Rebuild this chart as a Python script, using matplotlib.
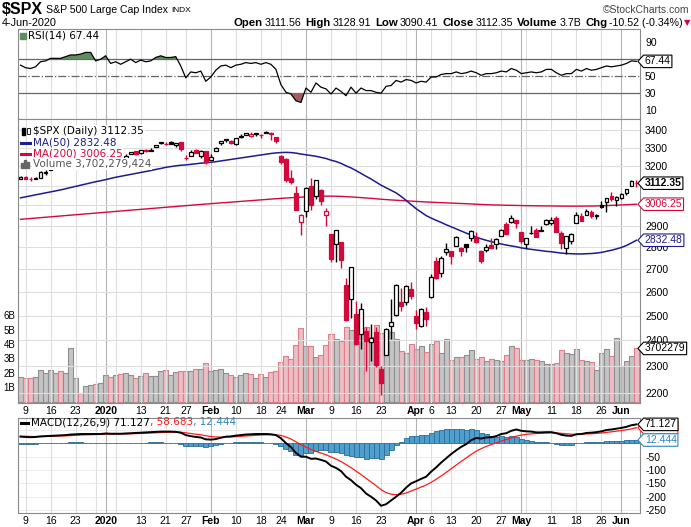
import numpy as np
import matplotlib
matplotlib.use("Agg")
import matplotlib.pyplot as plt
from matplotlib.patches import Rectangle
from matplotlib.path import Path
from matplotlib.lines import Line2D
from matplotlib.transforms import blended_transform_factory

plt.rcParams["font.family"] = ["Liberation Sans", "DejaVu Sans"]

# daily bars 6-Dec-2019 .. 4-Jun-2020 (index 0 .. 123)
opens = [3134.62, 3141.86, 3135.36, 3135.75, 3141.23, 3166.65, 3183.63, 3195.40, 3195.21, 3192.32,
         3223.33, 3226.05, 3225.45, 3227.20, 3247.23, 3240.09, 3215.18, 3244.67, 3226.36, 3217.55,
         3241.86, 3238.59, 3266.03, 3281.81, 3271.13, 3285.35, 3282.27, 3302.97, 3323.66, 3321.03,
         3330.02, 3315.77, 3333.10, 3247.16, 3255.35, 3289.46, 3256.45, 3282.33, 3235.66, 3280.61,
         3324.91, 3344.92, 3335.54, 3318.28, 3365.87, 3370.50, 3365.90, 3378.08, 3369.04, 3380.39,
         3380.45, 3360.50, 3257.61, 3238.94, 3139.90, 3062.54, 2916.90, 2974.28, 3096.46, 3045.75,
         3075.70, 2954.20, 2863.89, 2813.48, 2825.60, 2630.86, 2569.99, 2508.59, 2425.66, 2436.50,
         2393.48, 2431.94, 2290.71, 2344.44, 2457.77, 2501.29, 2555.87, 2558.98, 2614.69, 2498.08,
         2458.54, 2514.92, 2578.28, 2738.65, 2685.00, 2776.99, 2782.46, 2805.10, 2795.64, 2812.64,
         2842.43, 2845.62, 2784.81, 2787.89, 2810.42, 2812.64, 2854.65, 2909.96, 2918.46, 2930.91,
         2869.09, 2815.01, 2868.88, 2883.14, 2878.26, 2908.83, 2915.46, 2939.50, 2865.86, 2794.54,
         2829.95, 2913.86, 2948.59, 2953.63, 2969.95, 2948.05, 3004.08, 3015.65, 3046.61, 3025.17,
         3038.78, 3064.78, 3098.90, 3111.56]
highs = [3150.60, 3148.87, 3142.12, 3143.98, 3176.28, 3182.68, 3197.71, 3198.22, 3198.48, 3205.48,
         3225.65, 3227.78, 3226.43, 3240.08, 3247.93, 3240.92, 3231.72, 3258.14, 3246.15, 3246.84,
         3244.91, 3267.07, 3275.58, 3282.99, 3288.13, 3294.25, 3298.66, 3317.11, 3329.88, 3329.79,
         3337.77, 3326.88, 3333.18, 3258.85, 3285.78, 3293.47, 3285.91, 3282.33, 3268.44, 3306.92,
         3337.58, 3347.96, 3341.42, 3352.26, 3375.63, 3381.47, 3385.09, 3380.69, 3375.01, 3393.52,
         3389.15, 3360.76, 3259.81, 3246.99, 3182.51, 3097.07, 2959.72, 3090.96, 3136.72, 3130.97,
         3083.04, 2985.93, 2863.89, 2882.59, 2825.60, 2660.95, 2711.33, 2562.98, 2553.93, 2453.57,
         2466.97, 2453.01, 2300.73, 2449.71, 2571.42, 2637.01, 2615.91, 2631.80, 2641.39, 2522.75,
         2533.22, 2538.18, 2676.85, 2756.89, 2760.75, 2818.57, 2782.46, 2851.85, 2801.88, 2815.22,
         2879.22, 2868.98, 2785.54, 2815.10, 2844.90, 2842.71, 2887.72, 2921.15, 2954.86, 2930.91,
         2869.09, 2844.24, 2898.23, 2891.11, 2901.92, 2932.16, 2944.25, 2945.82, 2874.14, 2852.80,
         2865.01, 2968.09, 2964.21, 2980.29, 2978.50, 2956.76, 3021.72, 3036.25, 3068.67, 3049.17,
         3062.18, 3081.07, 3130.94, 3128.91]
lows = [3134.62, 3135.46, 3126.09, 3133.21, 3138.47, 3156.51, 3183.63, 3191.03, 3191.14, 3192.32,
        3216.03, 3222.30, 3220.51, 3227.20, 3234.37, 3216.57, 3212.03, 3235.53, 3222.34, 3214.64,
        3232.43, 3236.67, 3263.67, 3260.86, 3268.43, 3277.19, 3280.69, 3302.82, 3318.86, 3316.61,
        3320.04, 3301.87, 3281.53, 3234.50, 3253.22, 3271.89, 3242.80, 3214.68, 3235.66, 3280.61,
        3313.75, 3334.39, 3322.12, 3317.77, 3352.72, 3369.72, 3360.52, 3366.15, 3355.61, 3378.83,
        3341.02, 3328.45, 3214.65, 3118.77, 3108.99, 2977.39, 2855.84, 2945.19, 2976.63, 3034.38,
        2999.83, 2901.54, 2734.43, 2734.00, 2707.22, 2478.86, 2492.37, 2380.94, 2367.04, 2280.52,
        2319.78, 2295.56, 2191.86, 2344.44, 2407.53, 2500.72, 2520.02, 2545.28, 2571.15, 2447.49,
        2455.79, 2459.96, 2574.57, 2657.67, 2663.30, 2762.36, 2721.17, 2805.10, 2761.54, 2775.95,
        2830.88, 2820.43, 2727.10, 2775.95, 2794.26, 2791.76, 2852.89, 2860.71, 2912.16, 2892.47,
        2821.61, 2797.85, 2863.55, 2847.65, 2876.48, 2902.88, 2903.44, 2869.59, 2793.15, 2766.64,
        2816.78, 2913.86, 2922.35, 2953.63, 2938.57, 2933.59, 2988.17, 2969.75, 3023.40, 2998.61,
        3031.54, 3051.64, 3098.90, 3090.41]
closes = [3145.91, 3135.96, 3132.52, 3141.63, 3168.57, 3168.80, 3191.45, 3192.52, 3191.14, 3205.37,
          3221.22, 3224.01, 3223.38, 3239.91, 3240.02, 3221.29, 3230.78, 3257.85, 3234.85, 3246.28,
          3237.18, 3253.05, 3274.70, 3265.35, 3288.13, 3283.15, 3289.29, 3316.81, 3329.62, 3320.79,
          3321.75, 3325.54, 3295.47, 3243.63, 3276.24, 3273.40, 3283.66, 3225.52, 3248.92, 3297.59,
          3334.69, 3345.78, 3327.71, 3352.09, 3357.75, 3379.45, 3373.94, 3380.16, 3370.29, 3386.15,
          3373.23, 3337.75, 3225.89, 3128.21, 3116.39, 2978.76, 2954.22, 3090.23, 3003.37, 3130.12,
          3023.94, 2972.37, 2746.56, 2882.23, 2741.38, 2480.64, 2711.02, 2386.13, 2529.19, 2398.10,
          2409.39, 2304.92, 2237.40, 2447.33, 2475.56, 2630.07, 2541.47, 2626.65, 2584.59, 2470.50,
          2526.90, 2488.65, 2663.68, 2659.41, 2749.98, 2789.82, 2761.63, 2846.06, 2783.36, 2799.55,
          2874.56, 2823.16, 2736.56, 2799.31, 2797.80, 2836.74, 2878.48, 2863.39, 2939.51, 2912.43,
          2830.71, 2842.74, 2868.44, 2848.42, 2881.19, 2929.80, 2930.32, 2870.12, 2820.00, 2852.50,
          2863.70, 2953.91, 2922.94, 2971.61, 2948.51, 2955.45, 2991.77, 3036.13, 3029.73, 3044.31,
          3055.73, 3080.82, 3122.87, 3112.35]
prev_close = 3117.43  # close of 5-Dec-2019

# volume in billions of shares
volume_b = [1.69, 1.62, 1.62, 1.69, 2.18, 1.97, 2.18, 1.97, 2.11, 1.97,
            3.70, 1.62, 0.58, 1.06, 1.13, 1.20, 1.30, 1.83, 1.69, 1.83,
            1.90, 1.97, 1.83, 1.62, 1.76, 1.97, 1.76, 1.76, 2.11, 2.18,
            1.83, 2.06, 2.11, 2.11, 2.11, 2.25, 2.25, 2.69, 2.11, 2.18,
            2.25, 1.97, 1.83, 1.69, 1.83, 1.97, 1.90, 1.62, 1.90, 1.69,
            2.06, 2.13, 2.75, 3.15, 2.94, 3.91, 5.09, 3.84, 3.84, 3.08,
            3.22, 3.91, 4.70, 4.33, 4.19, 5.16, 4.95, 4.75, 4.81, 5.16,
            4.50, 5.32, 4.75, 4.98, 4.86, 4.33, 3.54, 3.36, 4.00, 3.63,
            3.84, 3.45, 4.00, 4.19, 3.36, 4.33, 2.90, 3.10, 3.08, 3.22,
            3.59, 2.94, 3.08, 2.80, 2.94, 2.87, 2.80, 3.22, 3.84, 3.70,
            2.87, 2.87, 2.94, 2.87, 2.80, 2.59, 2.59, 2.69, 3.59, 3.36,
            3.29, 3.63, 2.87, 2.80, 2.73, 2.18, 3.36, 3.63, 3.15, 4.40,
            2.45, 2.80, 3.15, 3.70]

ma50 = [3038, 3043, 3048, 3053, 3058, 3063, 3068, 3073, 3078, 3084,
        3090, 3096, 3102, 3108, 3114, 3120, 3125, 3131, 3137, 3143,
        3148, 3153, 3158, 3163, 3168, 3173, 3178, 3184, 3189, 3195,
        3199, 3203, 3206, 3208, 3211, 3214, 3217, 3219, 3222, 3225,
        3229, 3233, 3237, 3241, 3245, 3249, 3253, 3257, 3261, 3265,
        3269, 3272, 3274, 3275, 3274, 3271, 3266, 3262, 3258, 3254,
        3248, 3242, 3233, 3226, 3216, 3203, 3192, 3178, 3163, 3148,
        3134, 3118, 3102, 3089, 3076, 3063, 3045, 3025, 3004, 2984,
        2967, 2950, 2938, 2927, 2917, 2906, 2896, 2886, 2876, 2866,
        2857, 2847, 2839, 2832, 2826, 2820, 2815, 2810, 2806, 2802,
        2797, 2793, 2790, 2787, 2784, 2781, 2779, 2776, 2773, 2771,
        2770, 2769, 2769, 2770, 2771, 2773, 2776, 2781, 2786, 2792,
        2799, 2808, 2820, 2832.48]
ma200 = [2932.0, 2934.0, 2936.1, 2938.1, 2940.1, 2942.2, 2944.2, 2946.2, 2948.2, 2950.3,
         2952.3, 2954.3, 2956.4, 2958.4, 2960.4, 2962.5, 2964.5, 2966.5, 2968.5, 2970.6,
         2972.6, 2974.6, 2976.7, 2978.7, 2980.7, 2982.8, 2984.8, 2986.8, 2988.8, 2990.9,
         2992.9, 2994.9, 2997.0, 2999.0, 3001.0, 3003.0, 3005.0, 3006.9, 3008.8, 3010.7,
         3012.6, 3014.5, 3016.4, 3018.3, 3020.2, 3022.1, 3024.0, 3025.9, 3027.8, 3029.7,
         3031.6, 3033.5, 3035.3, 3037.0, 3038.6, 3040.1, 3041.5, 3043.0, 3044.2, 3045.3,
         3046.1, 3046.6, 3046.5, 3046.1, 3045.3, 3044.0, 3042.6, 3040.9, 3039.2, 3037.3,
         3035.4, 3033.3, 3031.0, 3029.2, 3027.5, 3026.0, 3024.5, 3023.1, 3021.7, 3020.1,
         3018.7, 3017.3, 3016.2, 3015.0, 3013.9, 3012.9, 3011.8, 3010.8, 3009.7, 3008.6,
         3007.5, 3006.2, 3004.9, 3003.8, 3003.0, 3002.3, 3001.7, 3001.1, 3000.6, 3000.1,
         2999.5, 2999.0, 2998.6, 2998.2, 2997.9, 2997.7, 2997.5, 2997.2, 2996.8, 2996.6,
         2996.5, 2996.6, 2996.7, 2996.9, 2997.2, 2997.6, 2998.3, 2999.3, 3000.4, 3001.5,
         3002.6, 3003.7, 3005.0, 3006.25]

rsi14 = [63, 60, 59, 61, 67, 68, 71, 71, 71, 73,
         75, 75, 76, 78, 78, 68, 70, 74, 65, 67,
         64, 67, 70, 66, 69, 67, 68, 72, 74, 72,
         72, 73, 62, 48, 55, 54, 56, 44, 49, 57,
         62, 63, 60, 63, 64, 66, 65, 66, 64, 66,
         64, 58, 40, 31, 29, 21, 19, 36, 31, 42,
         37, 35, 29, 36, 32, 27, 37, 30, 36, 33,
         33, 31, 30, 38, 39, 45, 43, 46, 45, 42,
         44, 43, 49, 49, 52, 53, 53, 55, 53, 54,
         56, 54, 51, 53, 53, 54, 56, 55, 59, 57,
         53, 54, 55, 54, 55, 58, 58, 54, 51, 53,
         53, 58, 56, 59, 57, 58, 60, 62, 61, 62,
         63, 65, 68, 67.44]

macd_line = [25, 24, 23, 24, 26, 27, 28, 29, 30, 31,
             33, 34, 35, 35, 35, 35, 35, 37, 36, 36,
             36, 37, 38, 39, 40, 41, 42, 43, 44, 44,
             44, 43, 40, 31, 27, 24, 22, 15, 14, 16,
             21, 25, 26, 29, 31, 33, 34, 35, 35, 35,
             34, 31, 19, 1, -14, -36, -50, -50, -58, -57,
             -62, -68, -84, -92, -104, -125, -138, -155, -168, -188,
             -200, -214, -234, -228, -214, -200, -185, -166, -150, -142,
             -133, -125, -106, -90, -72, -56, -40, -26, -13, -3,
             12, 20, 18, 22, 23, 27, 35, 38, 47, 52,
             47, 45, 44, 41, 41, 42, 42, 38, 32, 29,
             28, 34, 35, 39, 40, 42, 45, 50, 52, 55,
             58, 62, 68, 71.127]
macd_signal = [27, 26.4, 25.7, 25.4, 25.5, 25.8, 26.2, 26.8, 27.4, 28.1,
               29.1, 30.1, 31.1, 31.9, 32.5, 33.0, 33.4, 34.1, 34.5, 34.8,
               35.0, 35.4, 35.9, 36.5, 37.2, 38.0, 38.8, 39.6, 40.5, 41.2,
               41.7, 42.0, 41.6, 39.5, 37.0, 34.4, 32.0, 28.6, 25.7, 23.8,
               23.2, 23.6, 24.1, 25.1, 26.3, 27.6, 28.9, 30.1, 31.1, 31.9,
               32.3, 32.1, 29.5, 23.8, 16.2, 5.8, -5.4, -14.3, -23.0, -29.8,
               -36.2, -42.6, -50.9, -59.1, -68.1, -79.5, -91.2, -104.0, -116.8, -131.0,
               -144.8, -158.6, -173.7, -184.6, -190.5, -192.4, -190.9, -185.9, -178.7, -171.4,
               -163.7, -156.0, -146.0, -134.8, -122.2, -109.0, -95.2, -81.4, -67.7, -54.8,
               -41.4, -29.1, -19.7, -11.4, -4.5, 1.8, 8.4, 14.3, 20.8, 27.0,
               31.0, 33.8, 35.8, 36.9, 37.7, 38.6, 39.3, 39.0, 37.6, 35.9,
               34.3, 34.2, 34.4, 35.3, 36.2, 37.4, 38.9, 41.1, 43.3, 45.6,
               48.1, 50.9, 54.3, 58.683]

# weekly date ticks (bar index) and their labels
tick_pos = [1, 6, 11, 15, 17, 19, 24, 29, 33, 38, 43, 48, 52, 57, 62, 67, 72, 77,
            79, 82, 86, 91, 96, 100, 101, 106, 111, 116, 120]
tick_text = ["9", "16", "23", "", "2020", "", "13", "21", "27", "Feb", "10", "18", "24",
             "Mar", "9", "16", "23", "", "Apr", "6", "13", "20", "27", "May", "", "11",
             "18", "26", "Jun"]
month_ticks = [17, 38, 57, 79, 100, 120]

# grid levels, and the labelled subset (others sit behind the value tags)
price_ticks = [2200, 2300, 2400, 2500, 2600, 2700, 2800, 2900, 3000, 3100, 3200, 3300, 3400]
price_labels = [2200, 2300, 2400, 2500, 2600, 2700, 2800, 2900, 3200, 3300, 3400]
vol_ticks = [1, 2, 3, 4, 5, 6]
rsi_labels = [10, 30, 50, 90]
macd_ticks = [50, 0, -50, -100, -150, -200, -250]
macd_labels = [0, -50, -100, -150, -200, -250]

UP, DOWN = "#000000", "#d4083a"
NAVY = "#1c1c8e"
GRID, GRID_M, FRAME = "#dedede", "#b4b4b4", "#8a8a8a"

W, H = 691, 527
fig = plt.figure(figsize=(W / 100, H / 100), dpi=100)


def rect(l, t, r, b):
    return [l / W, 1 - b / H, (r - l) / W, (b - t) / H]


def tag_style(x0, y0, width, height, mutation_size):
    pad = 0.12 * mutation_size
    x0, y0 = x0 - pad, y0 - pad
    w, h = width + 2 * pad, height + 2 * pad
    return Path([(x0, y0), (x0 + w, y0), (x0 + w, y0 + h), (x0, y0 + h),
                 (x0 - h * 0.45, y0 + h / 2), (x0, y0)], closed=True)


def tag(axis, y, text, ec, tc, bold=False, trans=None, z=10):
    if trans is None:
        trans = axis.get_yaxis_transform()
    axis.text(1.0085, y, text, transform=trans, va="center", ha="left", fontsize=7.5,
              color=tc, fontweight="bold" if bold else "normal", zorder=z, clip_on=False,
              bbox=dict(boxstyle=tag_style, fc="white", ec=ec, lw=0.8))


def frame(axis):
    for s in axis.spines.values():
        s.set_color(FRAME)
        s.set_linewidth(0.8)


def vgrid(axis):
    for t in tick_pos:
        axis.axvline(t, color=GRID_M if t in month_ticks else GRID, lw=0.8, zorder=0.5)


def date_axis(axis):
    axis.set_xticks(tick_pos, tick_text)
    axis.tick_params(axis="x", length=0, pad=2, labelsize=7.5)
    for lbl, t in zip(axis.get_xticklabels(), tick_pos):
        if t in month_ticks:
            lbl.set_fontweight("bold")


idx = np.arange(len(closes))
o, h, l, c = (np.array(a) for a in (opens, highs, lows, closes))
up = c >= np.r_[prev_close, c[:-1]]
xlim = (-0.44, 123.6)

# ---- RSI panel ----
ax_r = fig.add_axes(rect(18.3, 29, 639.5, 119))
r = np.array(rsi14)
vgrid(ax_r)
ax_r.fill_between(idx, r, 70, where=r > 70, interpolate=True, color="#5f8d5f", lw=0, zorder=2)
ax_r.fill_between(idx, r, 30, where=r < 30, interpolate=True, color="#a65c5c", lw=0, zorder=2)
ax_r.axhline(70, color="#666666", lw=0.9, zorder=1)
ax_r.axhline(30, color="#666666", lw=0.9, zorder=1)
ax_r.axhline(50, color="#666666", lw=0.9, ls="-.", zorder=1)
ax_r.plot(idx, r, color="black", lw=0.9, zorder=3)
ax_r.set_xlim(*xlim)
ax_r.set_ylim(-0.5, 105.6)
ax_r.set_xticks([])
ax_r.yaxis.tick_right()
ax_r.set_yticks(rsi_labels, [str(v) for v in rsi_labels])
ax_r.tick_params(axis="y", length=0, pad=4, labelsize=7.5)
frame(ax_r)
tag(ax_r, rsi14[-1], f"{rsi14[-1]:.2f}", "black", "black")

# ---- price panel (volume underneath) ----
ax_v = fig.add_axes(rect(18.3, 119, 639.5, 403))
ax_v.bar(idx, volume_b, width=1.0, color=np.where(up, "#c4c4c4", "#ecbdc3"),
         edgecolor=np.where(up, "#8e8e8e", "#da7f8b"), lw=0.8, zorder=2)
ax_v.set_xlim(*xlim)
ax_v.set_ylim(-0.09, 19.63)
ax_v.set_xticks([])
ax_v.set_yticks(vol_ticks, [f"{v}B" for v in vol_ticks])
ax_v.tick_params(axis="y", length=0, pad=2, labelsize=7)
for s in ax_v.spines.values():
    s.set_visible(False)

ax = fig.add_axes(rect(18.3, 119, 639.5, 403))
ax.patch.set_visible(False)
ax.set_yscale("log")
vgrid(ax)
for p in price_ticks:
    ax.axhline(p, color=GRID, lw=0.8, zorder=0.5)
ax.plot(idx, ma200, color=DOWN, lw=1.0, zorder=2)
ax.plot(idx, ma50, color=NAVY, lw=1.1, zorder=2)
cols = np.where(up, UP, DOWN)
ax.vlines(idx, l, h, colors=cols, lw=1.0, zorder=3)
for i in idx:
    lo_b, hi_b = min(o[i], c[i]), max(o[i], c[i])
    ax.add_patch(Rectangle((i - 0.38, lo_b), 0.76, hi_b - lo_b,
                           facecolor="white" if c[i] > o[i] else cols[i],
                           edgecolor=cols[i], lw=0.9, zorder=4))
ax.set_xlim(*xlim)
ax.set_ylim(2164.5, 3460.7)
ax.yaxis.tick_right()
ax.set_yticks(price_labels, [str(p) for p in price_labels])
ax.minorticks_off()
ax.tick_params(axis="y", length=0, pad=4, labelsize=7.5)
date_axis(ax)
frame(ax)
tag(ax, closes[-1], f"{closes[-1]:.2f}", "black", "black", bold=True)
tag(ax, ma200[-1], f"{ma200[-1]:.2f}", DOWN, DOWN)
tag(ax, ma50[-1], f"{ma50[-1]:.2f}", NAVY, NAVY)
tag(ax, volume_b[-1], "3702279", "black", "black",
    trans=blended_transform_factory(ax.transAxes, ax_v.transData))

# ---- MACD panel ----
ax_m = fig.add_axes(rect(18.3, 418, 639.5, 513))
hist = np.array(macd_line) - np.array(macd_signal)
vgrid(ax_m)
for v in macd_ticks:
    ax_m.axhline(v, color="#ececec", lw=0.7, zorder=0.4)
ax_m.bar(idx, hist, width=1.0, color="#4f9fce", edgecolor="#2c6b97", lw=0.6, zorder=2)
ax_m.plot(idx, macd_signal, color="#ff1a1a", lw=0.9, zorder=3)
ax_m.plot(idx, macd_line, color="black", lw=1.4, zorder=4)
ax_m.set_xlim(*xlim)
ax_m.set_ylim(-261, 95)
ax_m.yaxis.tick_right()
ax_m.set_yticks(macd_labels, [str(v) for v in macd_labels])
ax_m.tick_params(axis="y", length=0, pad=4, labelsize=7.5)
date_axis(ax_m)
frame(ax_m)
tag(ax_m, macd_signal[-1], f"{macd_signal[-1]:.3f}", "#ff1a1a", "#ff1a1a", z=9)
tag(ax_m, hist[-1], f"{hist[-1]:.3f}", "#2f86bf", "#2f86bf", z=10)
tag(ax_m, macd_line[-1], f"{macd_line[-1]:.3f}", "black", "black", z=11)

# ---- texts in figure pixels ----
renderer = fig.canvas.get_renderer()


def ftext(x, y, s, **kw):
    return fig.text(x / W, 1 - y / H, s, va="center", **kw)


def chain(x, y, pieces, right=False):
    arts, total = [], 0
    for s, kw, gap in pieces:
        t = ftext(0, y, s, ha="left", **kw)
        w = t.get_window_extent(renderer).width
        arts.append((t, w, gap))
        total += w + gap
    x = x - total if right else x
    for t, w, gap in arts:
        t.set_x(x / W)
        x += w + gap


def fline(x0, x1, y, color, lw):
    fig.add_artist(Line2D([x0 / W, x1 / W], [1 - y / H] * 2, color=color, lw=lw,
                          transform=fig.transFigure))


B = dict(fontweight="bold", fontsize=8.2)
N = dict(fontsize=7.7)
chain(2, 10, [("$SPX", dict(fontweight="bold", fontsize=11.5), 3),
              ("S&P 500 Large Cap Index", dict(fontsize=7.6), 3),
              ("INDX", dict(fontsize=6), 0)])
ftext(689, 10, "\u00a9StockCharts.com", ha="right", fontsize=7.5, color="#444444")
ftext(2, 22.5, "4-Jun-2020", fontsize=7.8)
chain(683, 22.5, [("Open", B, 2), ("3111.56", N, 4), ("High", B, 2), ("3128.91", N, 4),
                  ("Low", B, 2), ("3090.41", N, 4), ("Close", B, 2), ("3112.35", N, 4),
                  ("Volume", B, 2), ("3.7B", N, 4), ("Chg", B, 2), ("-10.52 (-0.34%)", N, 0)],
      right=True)
ftext(684, 22.5, "\u25bc", fontsize=6, color=DOWN, ha="left", family=["DejaVu Sans"])

L = dict(fontsize=7.5, family=["DejaVu Sans"])
ftext(28, 35, "RSI(14) 67.44", ha="left", **L)
fig.add_artist(Rectangle((20 / W, 1 - 39 / H), 6 / W, 6 / H, color="#5f8d5f",
                         transform=fig.transFigure))

bb = dict(fc="white", ec="none", pad=0.6)
ftext(33, 131, "$SPX (Daily) 3112.35", ha="left", color="black", bbox=bb, **L)
ftext(33, 142.5, "MA(50) 2832.48", ha="left", color=NAVY, bbox=bb, **L)
ftext(33, 153.5, "MA(200) 3006.25", ha="left", color=DOWN, bbox=bb, **L)
ftext(33, 164, "Volume 3,702,279,424", ha="left", color="#555555", bbox=bb, **L)
fline(21, 30, 142.5, NAVY, 2.2)
fline(21, 30, 153.5, DOWN, 2.2)
for k, hh in enumerate((5, 8, 6)):
    fig.add_artist(Rectangle(((21 + 3 * k) / W, 1 - 168 / H), 2 / W, hh / H,
                             color="#666666", transform=fig.transFigure))
fig.add_artist(Rectangle((22 / W, 1 - 135 / H), 3 / W, 7 / H, color="black",
                         transform=fig.transFigure))
fig.add_artist(Rectangle((26.5 / W, 1 - 134 / H), 3 / W, 6 / H, fc="white", ec="black",
                         lw=0.6, transform=fig.transFigure))

fline(21, 28, 422.5, "black", 2.2)
chain(31, 422.5, [("MACD(12,26,9) 71.127", dict(color="black", **L), 0),
                  (", 58.683", dict(color="#ff1a1a", **L), 0),
                  (", 12.444", dict(color="#2f86bf", **L), 0)])

fig.savefig("out.png", dpi=100)
